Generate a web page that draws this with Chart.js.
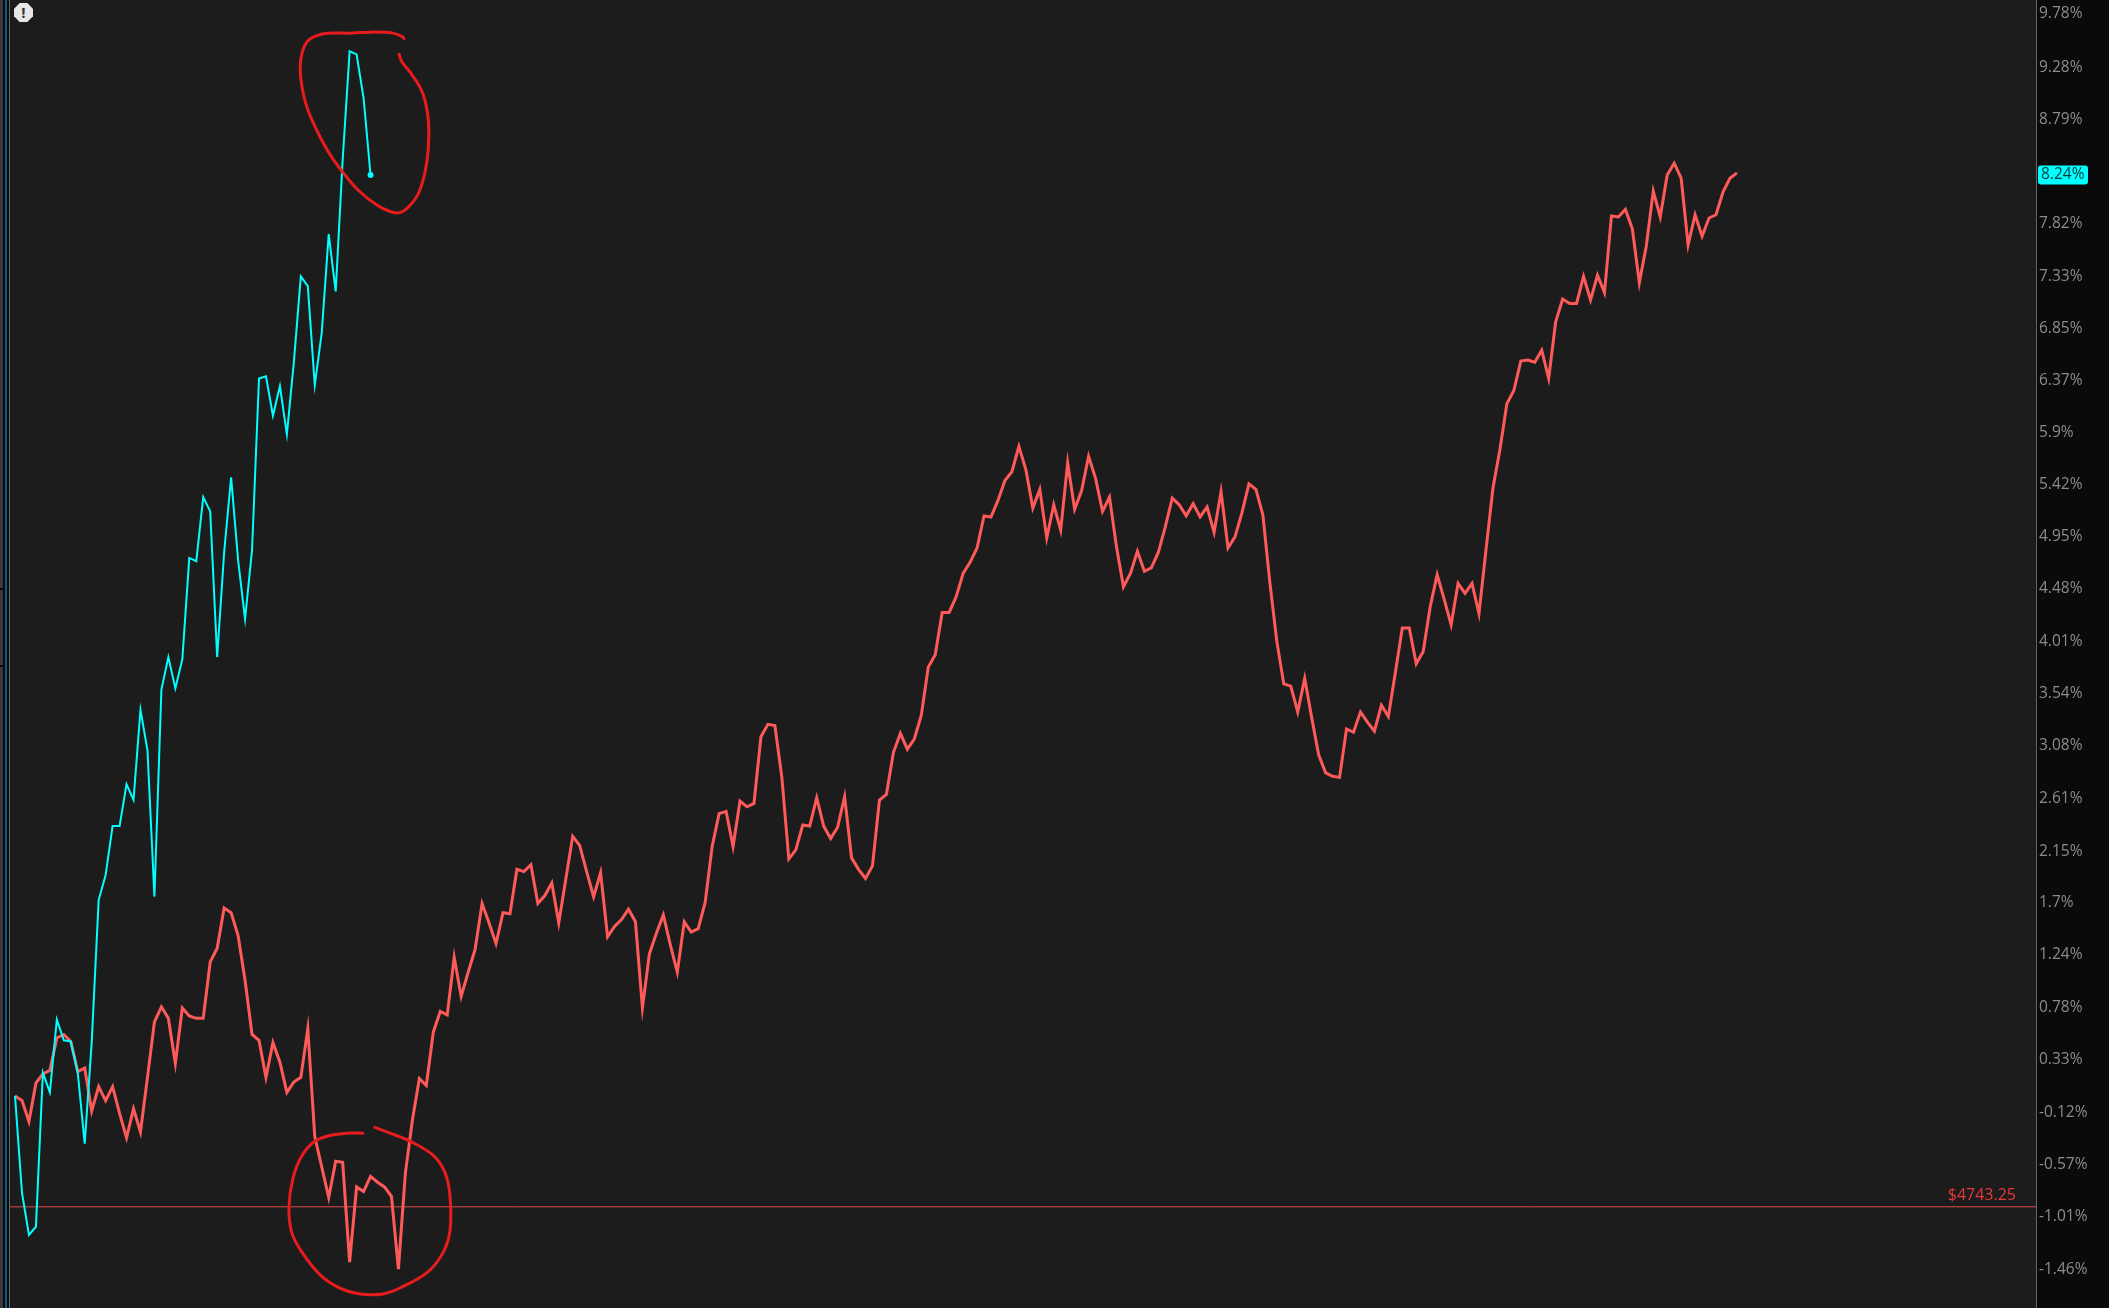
<!DOCTYPE html>
<html>
<head>
<meta charset="utf-8">
<title>Percent chart</title>
<style>
	html, body { margin: 0; padding: 0; background: #1c1c1c; overflow: hidden; }
	#wrap { position: relative; width: 2109px; height: 1308px; }
	#alert {
		position: absolute; left: 14px; top: 3px; width: 19px; height: 19px;
		background: #e6e6e6; color: #333; text-align: center;
		font: bold 15px/19px "Open Sans", sans-serif;
		clip-path: polygon(30% 0, 70% 0, 100% 30%, 100% 70%, 70% 100%, 30% 100%, 0 70%, 0 30%);
	}
</style>
<script src="https://cdn.jsdelivr.net/npm/chart.js@4/dist/chart.umd.min.js"></script>
</head>
<body>
<div id="wrap">
	<canvas id="chart" width="2109" height="1308"></canvas>
	<div id="alert">!</div>
</div>
<script>
// percent change per bar
const redValues = [
	0.02, -0.02, -0.20, 0.13, 0.21, 0.24, 0.52, 0.55, 0.49, 0.23,
	0.26, -0.11, 0.10, -0.02, 0.10, -0.13, -0.34, -0.09, -0.29, 0.18,
	0.66, 0.79, 0.69, 0.30, 0.78, 0.71, 0.69, 0.69, 1.18, 1.30,
	1.65, 1.61, 1.41, 1.02, 0.55, 0.50, 0.18, 0.48, 0.31, 0.05,
	0.14, 0.18, 0.60, -0.33, -0.59, -0.85, -0.54, -0.55, -1.40, -0.76,
	-0.80, -0.67, -0.72, -0.76, -0.84, -1.46, -0.64, -0.19, 0.17, 0.11,
	0.57, 0.75, 0.72, 1.22, 0.88, 1.09, 1.29, 1.69, 1.52, 1.34,
	1.61, 1.60, 1.99, 1.97, 2.03, 1.69, 1.76, 1.87, 1.52, 1.90,
	2.28, 2.20, 1.97, 1.75, 1.96, 1.40, 1.49, 1.55, 1.64, 1.53,
	0.78, 1.25, 1.43, 1.59, 1.33, 1.09, 1.53, 1.44, 1.47, 1.70,
	2.19, 2.48, 2.50, 2.19, 2.59, 2.54, 2.57, 3.16, 3.27, 3.26,
	2.80, 2.08, 2.16, 2.38, 2.37, 2.62, 2.37, 2.26, 2.36, 2.63,
	2.09, 1.99, 1.91, 2.02, 2.60, 2.65, 3.02, 3.19, 3.05, 3.14,
	3.35, 3.78, 3.89, 4.27, 4.27, 4.41, 4.62, 4.72, 4.85, 5.14,
	5.13, 5.28, 5.46, 5.54, 5.77, 5.56, 5.21, 5.38, 4.94, 5.24,
	5.01, 5.62, 5.20, 5.37, 5.68, 5.48, 5.18, 5.31, 4.86, 4.50,
	4.62, 4.82, 4.64, 4.67, 4.81, 5.04, 5.30, 5.24, 5.14, 5.25,
	5.13, 5.22, 4.99, 5.36, 4.85, 4.95, 5.17, 5.43, 5.38, 5.15,
	4.54, 4.01, 3.63, 3.61, 3.38, 3.68, 3.33, 3.00, 2.84, 2.81,
	2.80, 3.23, 3.20, 3.38, 3.29, 3.21, 3.44, 3.34, 3.73, 4.13,
	4.13, 3.81, 3.92, 4.32, 4.61, 4.39, 4.16, 4.53, 4.44, 4.53,
	4.26, 4.83, 5.39, 5.74, 6.16, 6.28, 6.55, 6.56, 6.54, 6.65,
	6.39, 6.91, 7.12, 7.08, 7.08, 7.33, 7.11, 7.34, 7.18, 7.89,
	7.88, 7.95, 7.77, 7.27, 7.61, 8.12, 7.88, 8.27, 8.38, 8.24,
	7.62, 7.90, 7.70, 7.87, 7.90, 8.11, 8.24, 8.29
];
const cyanValues = [
	0.02, -0.81, -1.17, -1.10, 0.22, 0.05, 0.68, 0.50, 0.49, 0.22,
	-0.39, 0.48, 1.72, 1.94, 2.37, 2.37, 2.74, 2.60, 3.40, 3.04,
	1.75, 3.58, 3.87, 3.59, 3.85, 4.76, 4.73, 5.31, 5.18, 3.87,
	4.81, 5.49, 4.74, 4.21, 4.83, 6.39, 6.41, 6.05, 6.32, 5.88,
	6.54, 7.33, 7.24, 6.33, 6.81, 7.72, 7.19, 8.41, 9.43, 9.40,
	8.99, 8.27
];
const tickValues = [
	9.78, 9.28, 8.79, 7.82, 7.33, 6.85, 6.37, 5.9, 5.42, 4.95, 4.48, 4.01,
	3.54, 3.08, 2.61, 2.15, 1.7, 1.24, 0.78, 0.33, -0.12, -0.57, -1.01, -1.46
];
const lastLabel = '8.24%';
const priceLabel = '$4743.25';
const priceLevel = -0.93;

// the two hand drawn circles, in bars and percent
const upperCircleX = [55.8, 55.5, 54.2, 51.9, 48.1, 44.8, 43.0, 41.9, 41.2, 40.9, 41.2, 42.0, 43.5, 45.2, 47.1, 49.2, 51.9, 53.8, 55.2, 56.4, 57.8, 58.8, 59.3, 59.3, 58.8, 58.1, 56.7, 55.5, 55.1];
const upperCircleY = [9.55, 9.57, 9.60, 9.61, 9.60, 9.60, 9.57, 9.52, 9.42, 9.28, 9.08, 8.88, 8.66, 8.46, 8.29, 8.13, 7.99, 7.93, 7.92, 7.97, 8.09, 8.29, 8.53, 8.78, 8.97, 9.09, 9.23, 9.33, 9.40];
const lowerCircleX = [49.9, 47.6, 45.2, 43.0, 41.2, 39.9, 39.3, 39.7, 41.2, 43.8, 46.6, 49.5, 52.8, 55.2, 59.1, 61.4, 62.4, 62.4, 61.7, 60.0, 56.7, 53.8, 51.6];
const lowerCircleY = [-0.30, -0.30, -0.32, -0.37, -0.49, -0.68, -0.93, -1.15, -1.32, -1.51, -1.62, -1.67, -1.67, -1.62, -1.49, -1.32, -1.13, -0.84, -0.64, -0.49, -0.37, -0.30, -0.25];

// the axis is a log price scale, so percent goes on as 100 + pct
const toPoint = (y, i) => ({ x: i, y: 100 + y });
const circlePoints = (xs, ys) => xs.map((x, i) => ({ x, y: 100 + ys[i] }));

const circleStyle = {
	borderColor: '#e81c1c',
	borderWidth: 3,
	pointRadius: 0,
	tension: 0.35,
	borderCapStyle: 'round',
	borderJoinStyle: 'round'
};

const panelPlugin = {
	id: 'panel',
	beforeDraw(chart) {
		const { ctx, chartArea, width, height } = chart;
		ctx.save();
		ctx.fillStyle = '#1c1c1c';
		ctx.fillRect(0, 0, chartArea.right, height);
		ctx.fillStyle = '#0a0a0a';
		ctx.fillRect(chartArea.right, 0, width - chartArea.right, height);
		// strip on the far left
		ctx.fillStyle = '#3a3a3a';
		ctx.fillRect(0, 0, 3, height);
		ctx.fillStyle = '#0a0a0a';
		ctx.fillRect(3, 0, 7, height);
		ctx.fillRect(0, 588, 3, 2);
		ctx.fillRect(0, 665, 3, 2);
		ctx.fillStyle = '#0f5a80';
		ctx.fillRect(5, 0, 2, height);
		ctx.fillStyle = '#666';
		ctx.fillRect(9, 0, 1, height);
		ctx.restore();
	},
	afterDraw(chart) {
		const { ctx, chartArea, scales } = chart;
		const y = scales.y;
		ctx.save();
		ctx.textBaseline = 'middle';

		ctx.font = '16px "Open Sans"';
		ctx.fillStyle = '#e8383c';
		ctx.textAlign = 'right';
		ctx.fillText(priceLabel, 2016, y.getPixelForValue(100 + priceLevel) - 11);

		const tagY = y.getPixelForValue(100 + cyanValues[cyanValues.length - 1]);
		ctx.fillStyle = '#00ffff';
		ctx.beginPath();
		ctx.roundRect(chartArea.right + 2, tagY - 9.5, 50, 19, 3);
		ctx.fill();
		ctx.font = '15.5px "Open Sans"';
		ctx.fillStyle = '#053a3a';
		ctx.textAlign = 'left';
		ctx.fillText(lastLabel, chartArea.right + 5, tagY);
		ctx.restore();
	}
};

const chart = new Chart(document.getElementById('chart'), {
	type: 'line',
	plugins: [panelPlugin],
	data: {
		datasets: [
			{
				data: [{ x: -0.72, y: 100 + priceLevel }, { x: 289.9, y: 100 + priceLevel }],
				borderColor: '#e04a4a',
				borderWidth: 1,
				pointRadius: 0,
				order: 4
			},
			{
				data: redValues.map(toPoint),
				borderColor: '#ff5a5a',
				borderWidth: 3,
				pointRadius: 0,
				order: 3
			},
			{
				data: cyanValues.map(toPoint),
				borderColor: '#00ffff',
				backgroundColor: '#00ffff',
				borderWidth: 2,
				pointRadius: ctx => (ctx.dataIndex === cyanValues.length - 1 ? 3 : 0),
				pointBorderWidth: 0,
				order: 2
			},
			{ data: circlePoints(upperCircleX, upperCircleY), ...circleStyle, order: 1 },
			{ data: circlePoints(lowerCircleX, lowerCircleY), ...circleStyle, order: 1 }
		]
	},
	options: {
		responsive: false,
		animation: false,
		layout: { padding: 0, autoPadding: false },
		plugins: { legend: { display: false }, tooltip: { enabled: false } },
		scales: {
			x: {
				type: 'linear',
				display: false,
				min: -2.152,
				max: 289.9
			},
			y: {
				type: 'logarithmic',
				position: 'right',
				bounds: 'data',
				min: 98.211,
				max: 109.913,
				afterBuildTicks: axis => {
					axis.ticks = tickValues.map(v => ({ value: 100 + v }));
				},
				afterFit: axis => {
					axis.width = 73;
					axis.paddingTop = 0;
					axis.paddingBottom = 0;
				},
				grid: { drawOnChartArea: false, drawTicks: false, color: '#666' },
				border: { display: true, color: '#666', width: 1 },
				ticks: {
					autoSkip: false,
					maxRotation: 0,
					padding: 3,
					color: '#8c8c8c',
					font: { family: '"Open Sans"', size: 15.5 },
					callback: v => +(v - 100).toFixed(2) + '%'
				}
			}
		}
	}
});
</script>
</body>
</html>
